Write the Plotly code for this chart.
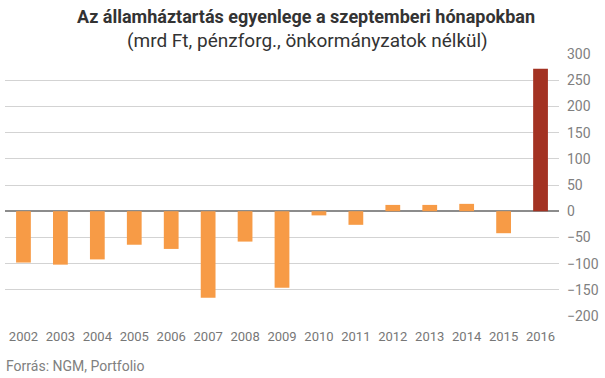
import plotly.graph_objects as go

years = ["2002", "2003", "2004", "2005", "2006", "2007", "2008", "2009",
         "2010", "2011", "2012", "2013", "2014", "2015", "2016"]
values = [-98, -102, -92, -64, -72, -165, -58, -146, -8, -26, 12, 12, 14, -42, 272]
colors = ["#F79B46"] * 14 + ["#A33222"]

title = "<b>Az államháztartás egyenlege a szeptemberi hónapokban</b>"
subtitle = "(mrd Ft, pénzforg., önkormányzatok nélkül)"
source = "Forrás: NGM, Portfolio"
ytick_vals = [-200, -150, -100, -50, 0, 50, 100, 150, 200, 250, 300]

W, H = 605, 378
L, R, T, B = 5, 46, 54, 62
pw, ph = W - L - R, H - T - B


def px(x):
    return (x - L) / pw


def py(y):
    return (H - B - y) / ph


fig = go.Figure(go.Bar(x=years, y=values, marker_color=colors, marker_line_width=0))

fig.update_layout(
    width=W, height=H,
    margin=dict(l=L, r=R, t=T, b=B, autoexpand=False),
    paper_bgcolor="white", plot_bgcolor="white",
    bargap=0.6, showlegend=False,
    font=dict(family="Roboto", color="#808080", size=14),
    annotations=[
        dict(text=title, x=px(306), y=py(16), xref="paper", yref="paper", showarrow=False,
             xanchor="center", yanchor="middle",
             font=dict(size=18, color="#333333", family="Roboto")),
        dict(text=subtitle, x=px(307), y=py(41), xref="paper", yref="paper", showarrow=False,
             xanchor="center", yanchor="middle",
             font=dict(size=19, color="#333333", family="Roboto")),
        dict(text=source, x=px(4), y=py(366), xref="paper", yref="paper", showarrow=False,
             xanchor="left", yanchor="middle",
             font=dict(size=14, color="#808080", family="Roboto")),
    ],
)

fig.update_xaxes(showgrid=False, showline=False, ticks="", tickfont=dict(size=13, color="#777777"),
                 ticklabelstandoff=11)
fig.update_yaxes(side="right", range=[-200, 300], tickvals=ytick_vals,
                 showgrid=True, gridcolor="#d3d3d3", gridwidth=1,
                 zeroline=True, zerolinecolor="#8c8c8c", zerolinewidth=1.5,
                 ticks="", tickfont=dict(size=14, color="#808080"), ticklabelstandoff=7)

fig.write_html("out.html", config={"displayModeBar": False},
               post_script="document.body.style.margin='0';")
